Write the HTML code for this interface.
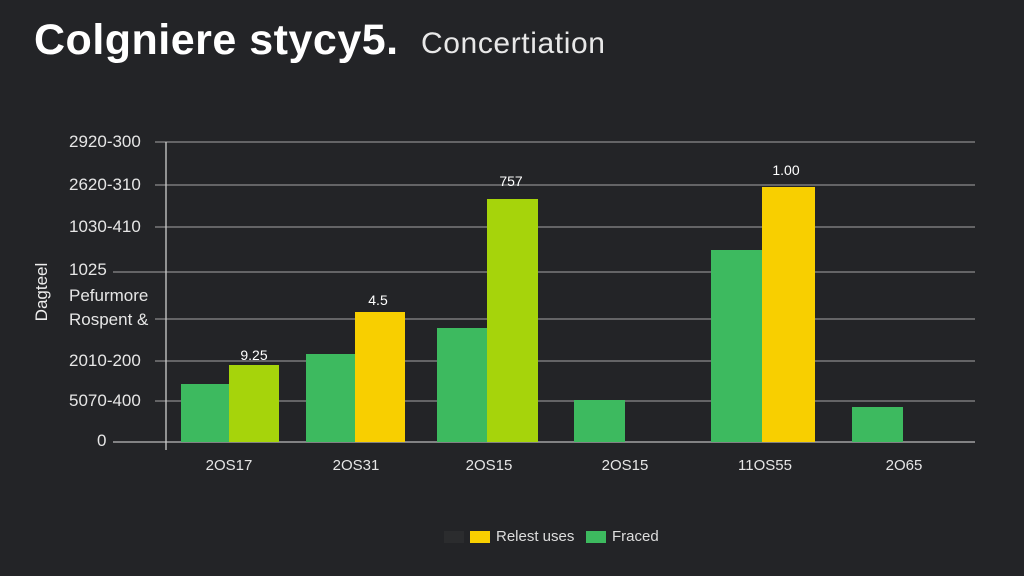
<!DOCTYPE html><html><head><style>
body{margin:0;width:1024px;height:576px;background:#232427;font-family:"Liberation Sans",sans-serif;color:#eee;overflow:hidden;position:relative}
.t{position:absolute;white-space:nowrap}
.b{position:absolute}
.y{font-size:17px;color:#e6e6e6;left:69px}
.x{font-size:15px;color:#e6e6e6;top:457px;transform:translateX(-50%)}
.v{font-size:14px;color:#fff;transform:translateX(-50%)}
</style></head><body>
<div class="t" style="left:34px;top:16px;font-size:43px;font-weight:bold;color:#fff;letter-spacing:0.5px">Colgniere stycy5.</div>
<div class="t" style="left:421px;top:27px;font-size:30px;color:#e8e8e8;letter-spacing:0.6px">Concertiation</div>
<svg width="1024" height="576" style="position:absolute;left:0;top:0">
<g stroke="#8a8b8d" stroke-width="1.3">
<line x1="155" y1="142" x2="975" y2="142"/><line x1="155" y1="185" x2="975" y2="185"/>
<line x1="155" y1="227" x2="975" y2="227"/><line x1="113" y1="272" x2="975" y2="272"/>
<line x1="155" y1="319" x2="975" y2="319"/><line x1="155" y1="361" x2="975" y2="361"/>
<line x1="155" y1="401" x2="975" y2="401"/><line x1="113" y1="442" x2="975" y2="442" stroke="#bbb"/>
<line x1="166" y1="142" x2="166" y2="450" stroke="#ccc"/>
</g></svg>
<div class="t y" style="top:132px">2920-300</div>
<div class="t y" style="top:175px">2620-310</div>
<div class="t y" style="top:217px">1030-410</div>
<div class="t y" style="top:260px">1025</div>
<div class="t y" style="top:286px">Pefurmore</div>
<div class="t y" style="top:310px">Rospent &amp;</div>
<div class="t y" style="top:351px">2010-200</div>
<div class="t y" style="top:391px">5070-400</div>
<div class="t y" style="top:431px;left:97px">0</div>
<div class="t" style="left:12px;top:282px;font-size:17px;transform:rotate(-90deg);transform-origin:center;width:60px;text-align:center">Dagteel</div>
<div class="b" style="left:181px;top:384px;width:48px;height:58px;background:#3dba5f"></div>
<div class="b" style="left:229px;top:365px;width:50px;height:77px;background:#a6d40b"></div>
<div class="b" style="left:306px;top:354px;width:49px;height:88px;background:#3dba5f"></div>
<div class="b" style="left:355px;top:312px;width:50px;height:130px;background:#f8cf00"></div>
<div class="b" style="left:437px;top:328px;width:50px;height:114px;background:#3dba5f"></div>
<div class="b" style="left:487px;top:199px;width:51px;height:243px;background:#a6d40b"></div>
<div class="b" style="left:574px;top:400px;width:51px;height:42px;background:#3dba5f"></div>
<div class="b" style="left:711px;top:250px;width:51px;height:192px;background:#3dba5f"></div>
<div class="b" style="left:762px;top:187px;width:53px;height:255px;background:#f8cf00"></div>
<div class="b" style="left:852px;top:407px;width:51px;height:35px;background:#3dba5f"></div>
<div class="t v" style="left:254px;top:347px">9.25</div>
<div class="t v" style="left:378px;top:292px">4.5</div>
<div class="t v" style="left:511px;top:173px">757</div>
<div class="t v" style="left:786px;top:162px">1.00</div>
<div class="t x" style="left:229px">2OS17</div>
<div class="t x" style="left:356px">2OS31</div>
<div class="t x" style="left:489px">2OS15</div>
<div class="t x" style="left:625px">2OS15</div>
<div class="t x" style="left:765px">11OS55</div>
<div class="t x" style="left:904px">2O65</div>
<div class="b" style="left:444px;top:531px;width:20px;height:12px;background:#2b2c2e"></div>
<div class="b" style="left:470px;top:531px;width:20px;height:12px;background:#f8cf00"></div>
<div class="t" style="left:496px;top:528px;font-size:15px;color:#ddd">Relest uses</div>
<div class="b" style="left:586px;top:531px;width:20px;height:12px;background:#3dba5f"></div>
<div class="t" style="left:612px;top:528px;font-size:15px;color:#ddd">Fraced</div>
</body></html>
